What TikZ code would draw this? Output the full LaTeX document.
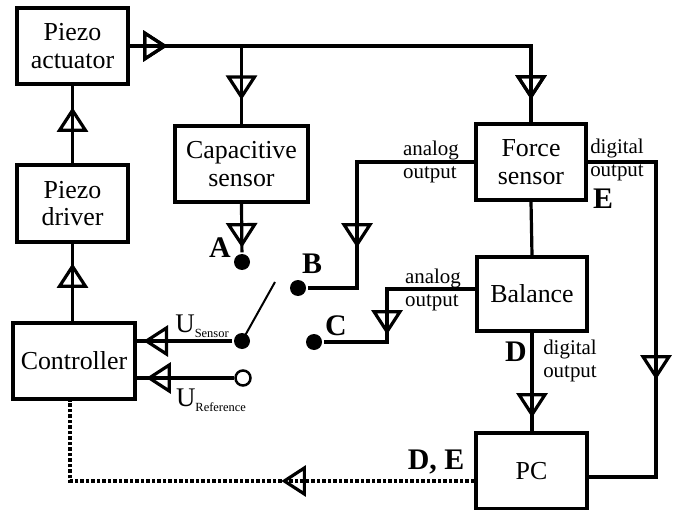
\documentclass[tikz,border=0pt]{standalone}
\usepackage{fontspec}
\setmainfont{Liberation Serif}
\usetikzlibrary{decorations.markings,positioning}

\begin{document}
\begin{tikzpicture}[
  x=1bp, y=-1bp,
  line width=3.2bp,
  box/.style={draw, line width=3.3bp, align=center, inner sep=0pt,
    minimum width=#1, minimum height=76bp, font=\fontsize{26}{28}\selectfont},
  box/.default=111bp,
  note/.style={align=left, inner sep=0pt, font=\fontsize{21}{23}\selectfont},
  tag/.style={inner sep=0pt, font=\fontsize{30}{30}\selectfont\bfseries},
  volt/.style={inner sep=0pt, font=\fontsize{27}{28}\selectfont},
  jack/.style={circle, fill, inner sep=0pt, minimum size=16bp},
  hole/.style={circle, draw, line width=2.5bp, fill=white, inner sep=0pt, minimum size=15bp},
  sig/.style={postaction={decorate}, decoration={markings,
    mark=at position #1 with {\draw[solid, line width=3.2bp, line join=miter]
      (-20,-13) -- (0,0) -- (-20,13) -- cycle;}}},
  bus/.style={line width=3.5bp, dash pattern=on 3.5bp off 2bp}
]
\useasboundingbox (0,0) rectangle (676,510);

% blocks
\node[box] (act) at (72.5,46) {Piezo\\actuator};
\node[box, minimum height=77bp] (drv) at (72.5,203.5) {Piezo\\driver};
\node[box=122bp] (ctrl) at (74,361) {Controller};
\node[box=133bp] (cap) at (241.5,164) {Capacitive\\sensor};
\node[box=110bp] (force) at (531,162) {Force\\sensor};
\node[box=110bp, minimum height=74bp] (bal) at (532,294) {Balance};
\node[box] (pc) at (531.5,471) {PC};

% switch contacts
\node[jack] (ptA) at (242,262) {};
\node[jack] (ptB) at (298,288) {};
\node[jack] (ptC) at (314,342) {};
\node[jack] (usens) at (242,341) {};
\node[hole] (uref) at (243,378) {};
\coordinate (lever) at (275,282);

% bends
\coordinate (split) at (cap.north |- act.east);
\coordinate (bendB) at (357,162);
\coordinate (bendC) at (387,289);
\coordinate (bendE) at (656,162);
\coordinate (bendE2) at (656,477);
\coordinate (corner) at (70,481);

% signal paths
\draw[sig=35bp, sig=452bp] (act.east) -- (force.north |- act.east) -- (force.north);
\draw[sig=51bp] (split) -- (cap.north);
\draw[sig=41bp] (cap.south) -- (ptA);
\draw[sig=53bp] (drv.north) -- (act.south);
\draw[sig=55bp] (drv.south |- ctrl.north) -- (drv.south);
\draw[sig=86bp] (usens) -- (usens -| ctrl.east);
\draw[sig=85bp] (uref) -- (uref -| ctrl.east);
\draw[line width=2bp] (usens.center) -- (lever);
\draw[sig=200bp] (force.west |- bendB) -- (bendB) |- (ptB);
\draw[sig=131bp] (bal.west |- bendC) -- (bendC) |- (ptC);
\draw (force.south) -- (bal.north);
\draw[sig=283bp] (force.east |- bendE) -- (bendE) -- (bendE2) -- (pc.east |- bendE2);
\draw[sig=82bp] (bal.south) -- (pc.north -| bal.south);
\draw[bus, sig=190bp] (pc.west |- corner) -- (corner) -- (corner |- ctrl.south);

% labels
\node[tag] (labA) at (220,248) {A};
\node[tag] (labB) at (312,264) {B};
\node[tag] (labC) at (336,326) {C};
\node[tag] (labD) at (516,352) {D};
\node[tag] (labE) at (603,199) {E};
\node[tag] (labDE) at (436,462) {D, E};
\node[note] (fana) at (431,162) {analog\\output};
\node[note] (fdig) at (617,160) {digital\\output};
\node[note] (bana) at (433,290) {analog\\output};
\node[note] (bdig) at (570,361) {digital\\output};
\node[volt] (lsens) at (202,326) {U\raisebox{-5bp}{\fontsize{12.5}{13}\selectfont Sensor}};
\node[volt] (lref) at (211,400) {U\raisebox{-5bp}{\fontsize{12.5}{13}\selectfont Reference}};

\end{tikzpicture}
\end{document}
